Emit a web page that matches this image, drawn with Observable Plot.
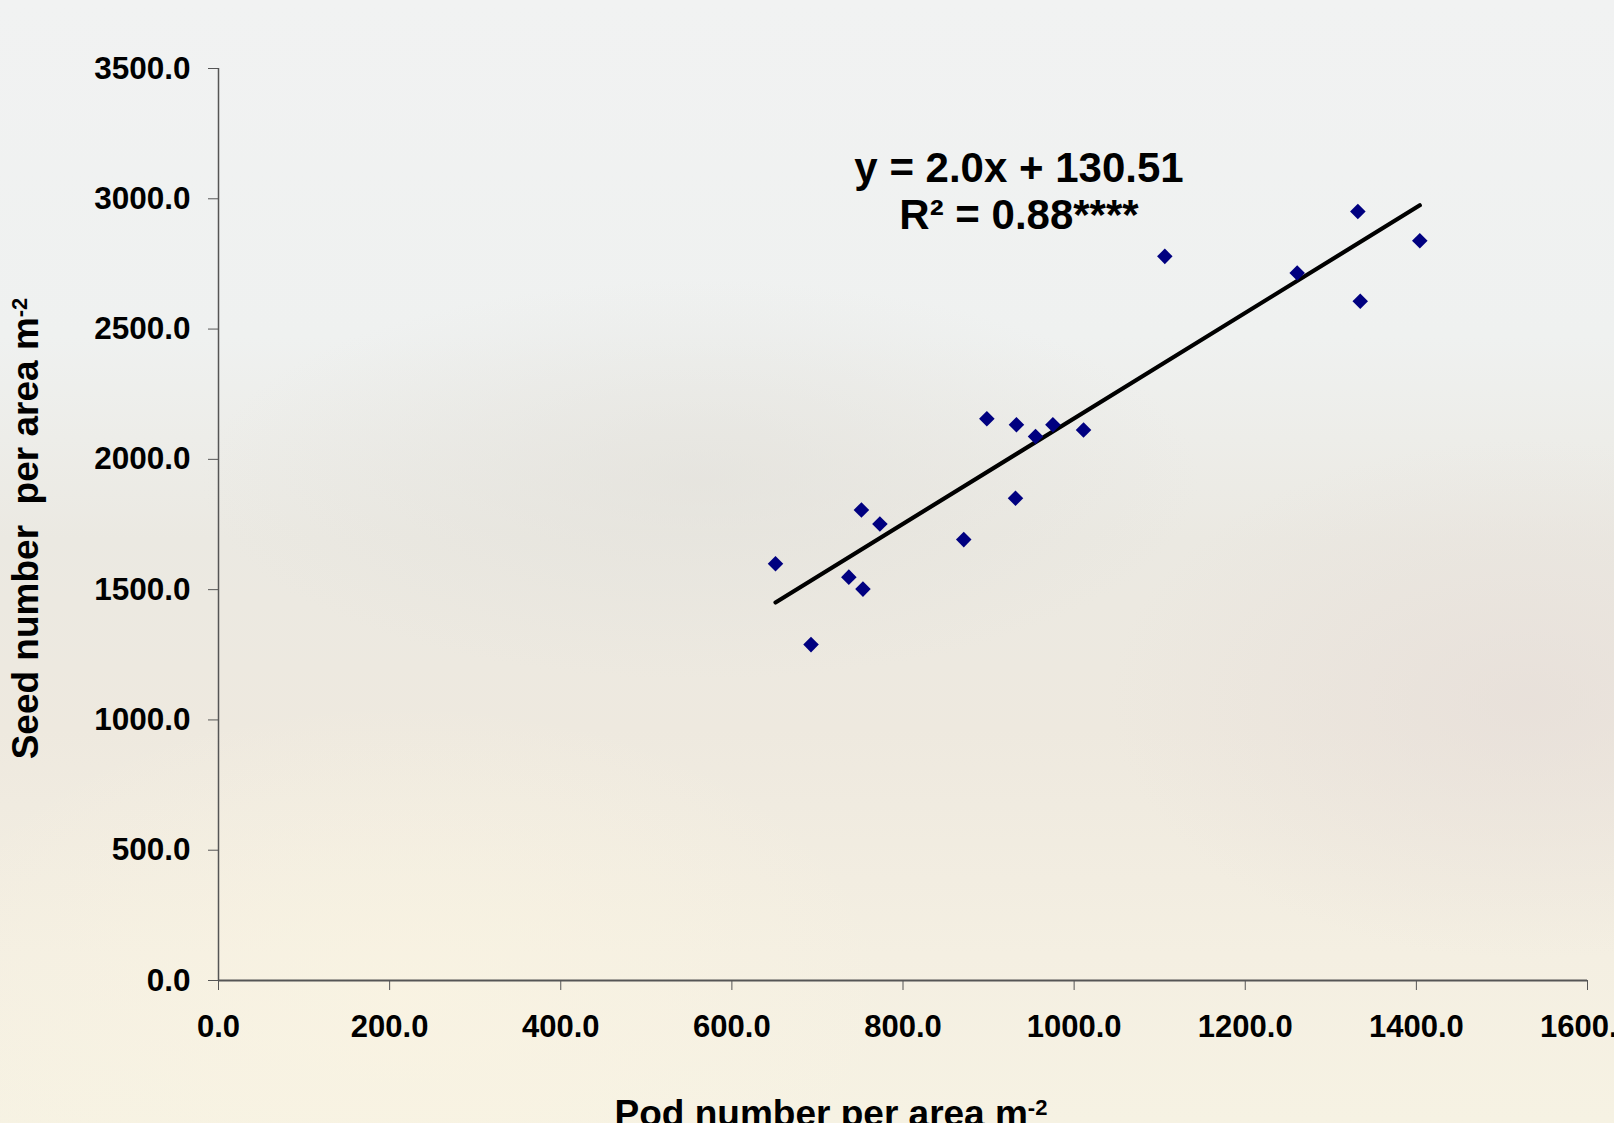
<!DOCTYPE html>
<html>
<head>
<meta charset="utf-8">
<script src="https://cdn.jsdelivr.net/npm/d3@7"></script>
<script src="https://cdn.jsdelivr.net/npm/@observablehq/plot@0.6"></script>
<style>
html, body { margin: 0; padding: 0; overflow: hidden; }
body {
  width: 1614px; height: 1123px;
  background:
    radial-gradient(ellipse 420px 260px at 1530px 700px, rgba(228,218,214,0.55), rgba(228,218,214,0) 100%),
    radial-gradient(ellipse 500px 200px at 700px 480px, rgba(226,224,218,0.6), rgba(226,224,218,0) 100%),
    radial-gradient(ellipse 500px 300px at 400px 1000px, rgba(250,244,226,0.7), rgba(250,244,226,0) 100%),
    linear-gradient(to bottom, #f1f2f2 0%, #eff1f0 30%, #ebe9e2 48%, #eee9df 65%, #f4efe2 85%, #f6f2e3 100%);
  font-family: "Liberation Sans", Arial, sans-serif;
}
#chart svg { display: block; }
</style>
</head>
<body>
<div id="chart"></div>
<script>
// Data
const podNumber  = [651, 692.5, 736.7, 751.4, 753.2, 773, 871, 898, 932.6, 931.5, 954.9, 975.2, 1011, 1106, 1260.7, 1331.6, 1334.4, 1404];
const seedNumber = [1599, 1289, 1548, 1806, 1502, 1752, 1692, 2156, 2133, 1851, 2088, 2133, 2113, 2779, 2715, 2951, 2607, 2839];
const xTicks = [0, 200, 400, 600, 800, 1000, 1200, 1400, 1600];
const yTicks = [0, 500, 1000, 1500, 2000, 2500, 3000, 3500];
const equationLines = ["y = 2.0x + 130.51", "R² = 0.88****"];
const xLabelMain = "Pod number per area m";
const yLabelMain = "Seed number  per area m";
const labelSup = "-2";

const data = podNumber.map((x, i) => ({x, y: seedNumber[i]}));
const fmt = d3.format(".1f");

const chart = Plot.plot({
  width: 1614,
  height: 1123,
  marginLeft: 218,
  marginRight: 27,
  marginTop: 68,
  marginBottom: 143,
  style: {background: "transparent", fontFamily: "'Liberation Sans', Arial, sans-serif", color: "black", overflow: "visible"},
  x: {domain: [0, 1600]},
  y: {domain: [0, 3500]},
  marks: [
    Plot.axisX({ticks: xTicks, tickFormat: fmt, tickSize: 10, tickPadding: 24, fontSize: 31, fontWeight: "bold", stroke: "#555", label: null}),
    Plot.axisY({ticks: yTicks, tickFormat: fmt, tickSize: 10, tickPadding: 18, fontSize: 31.5, fontWeight: "bold", stroke: "#555", label: null}),
    Plot.ruleY([0], {stroke: "#555", strokeWidth: 2}),
    Plot.ruleX([0], {stroke: "#555", strokeWidth: 1.5}),
    Plot.linearRegressionY(data, {x: "x", y: "y", stroke: "black", strokeWidth: 4.2, ci: 0}),
    Plot.dot(data, {x: "x", y: "y", symbol: "diamond2", r: 7, fill: "#000080", stroke: "none"}),
    Plot.text([equationLines.join("\n")], {frameAnchor: "top", dx: 116, dy: 122, lineAnchor: "middle", lineHeight: 1.12, fontSize: 42, fontWeight: "bold", fill: "black"}),
    Plot.text([xLabelMain], {frameAnchor: "bottom", textAnchor: "middle", dx: -72, dy: 145, fontSize: 37, fontWeight: "bold", fill: "black"}),
    Plot.text([yLabelMain], {frameAnchor: "left", textAnchor: "middle", dx: -192, dy: 4, rotate: -90, fontSize: 37, fontWeight: "bold", fill: "black"})
  ]
});

document.getElementById("chart").appendChild(chart);

// add superscripts to the axis labels
d3.select(chart).selectAll("text").each(function() {
  const t = this.textContent;
  if (t === xLabelMain || t === yLabelMain) {
    d3.select(this).style("white-space", "pre");
    d3.select(this).append("tspan").attr("dy", -11).attr("font-size", 22).text(labelSup);
  }
});
</script>
</body>
</html>
